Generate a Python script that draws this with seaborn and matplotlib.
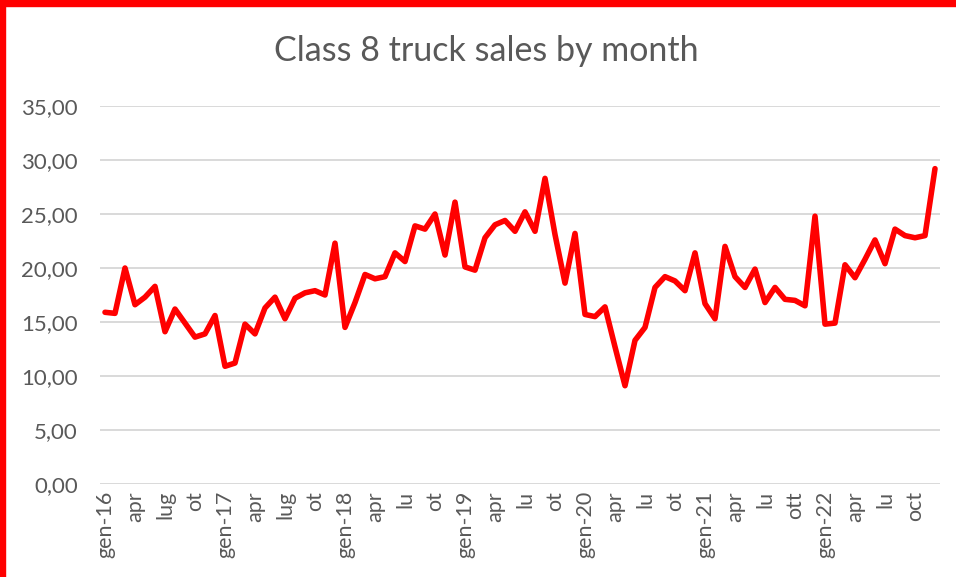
import matplotlib
matplotlib.use("Agg")
import matplotlib.pyplot as plt
import seaborn as sns
import pandas as pd
from matplotlib.patches import Rectangle

# Monthly values (thousands of units), gen-16 .. dic-22
sales_2016 = [15.9, 15.8, 20.0, 16.6, 17.3, 18.3, 14.1, 16.2, 14.9, 13.6, 13.9, 15.6]
sales_2017 = [10.9, 11.2, 14.8, 13.9, 16.3, 17.3, 15.3, 17.2, 17.7, 17.9, 17.5, 22.3]
sales_2018 = [14.5, 16.8, 19.4, 19.0, 19.2, 21.4, 20.6, 23.9, 23.6, 25.0, 21.2, 26.1]
sales_2019 = [20.1, 19.8, 22.8, 24.0, 24.4, 23.4, 25.2, 23.4, 28.3, 23.1, 18.6, 23.2]
sales_2020 = [15.7, 15.5, 16.4, 12.7, 9.1, 13.3, 14.5, 18.2, 19.2, 18.8, 17.9, 21.4]
sales_2021 = [16.7, 15.3, 22.0, 19.2, 18.2, 19.9, 16.8, 18.2, 17.1, 17.0, 16.5, 24.8]
sales_2022 = [14.8, 14.9, 20.3, 19.1, 20.8, 22.6, 20.4, 23.6, 23.0, 22.8, 23.0, 29.2]

tick_labels = ["gen-16", "apr", "lug", "ot",
               "gen-17", "apr", "lug", "ot",
               "gen-18", "apr", "lu", "ot",
               "gen-19", "apr", "lu", "ot",
               "gen-20", "apr", "lu", "ot",
               "gen-21", "apr", "lu", "ott",
               "gen-22", "apr", "lu", "oct"]
y_ticks = [0, 5, 10, 15, 20, 25, 30, 35]

values = sales_2016 + sales_2017 + sales_2018 + sales_2019 + sales_2020 + sales_2021 + sales_2022
df = pd.DataFrame({"month": range(len(values)), "sales": values})

sns.set_style("white")
plt.rcParams["font.family"] = ["Lato", "DejaVu Sans"]

fig = plt.figure(figsize=(9.56, 5.77), dpi=100)
ax = fig.add_axes([100 / 956, (577 - 484) / 577, 840 / 956, 378 / 577])

sns.lineplot(data=df, x="month", y="sales", ax=ax, color="#ff0000",
             linewidth=4.0, solid_joinstyle="round", solid_capstyle="round")

ax.set_xlim(-0.5, len(values) - 0.5)
ax.set_ylim(0, 35)
ax.set_yticks(y_ticks)
ax.set_yticklabels([f"{v:.2f}".replace(".", ",") for v in y_ticks])
ax.set_xticks(range(0, len(values), 3))
ax.set_xticklabels(tick_labels, rotation=90, va="top", ha="center")
ax.set_xlabel("")
ax.set_ylabel("")

gray = "#595959"
ax.tick_params(axis="y", length=0, pad=16, labelsize=16, labelcolor=gray)
ax.tick_params(axis="x", length=0, pad=5, labelsize=15.5, labelcolor=gray)
ax.grid(axis="y", color="#d9d9d9", linewidth=1.4)
ax.grid(axis="x", visible=False)
ax.set_axisbelow(True)
for s in ax.spines.values():
    s.set_visible(False)

fig.text(0.509, 1 - 51 / 577, "Class 8 truck sales by month", ha="center", va="center",
         fontsize=24.5, color=gray)

# red frame on left and top edges
fig.patches.append(Rectangle((0, 0), 5 / 956, 1, transform=fig.transFigure,
                             color="#ff0000", zorder=10))
fig.patches.append(Rectangle((0, 1 - 6 / 577), 1, 6 / 577, transform=fig.transFigure,
                             color="#ff0000", zorder=10))

fig.savefig("out.png", dpi=100)
